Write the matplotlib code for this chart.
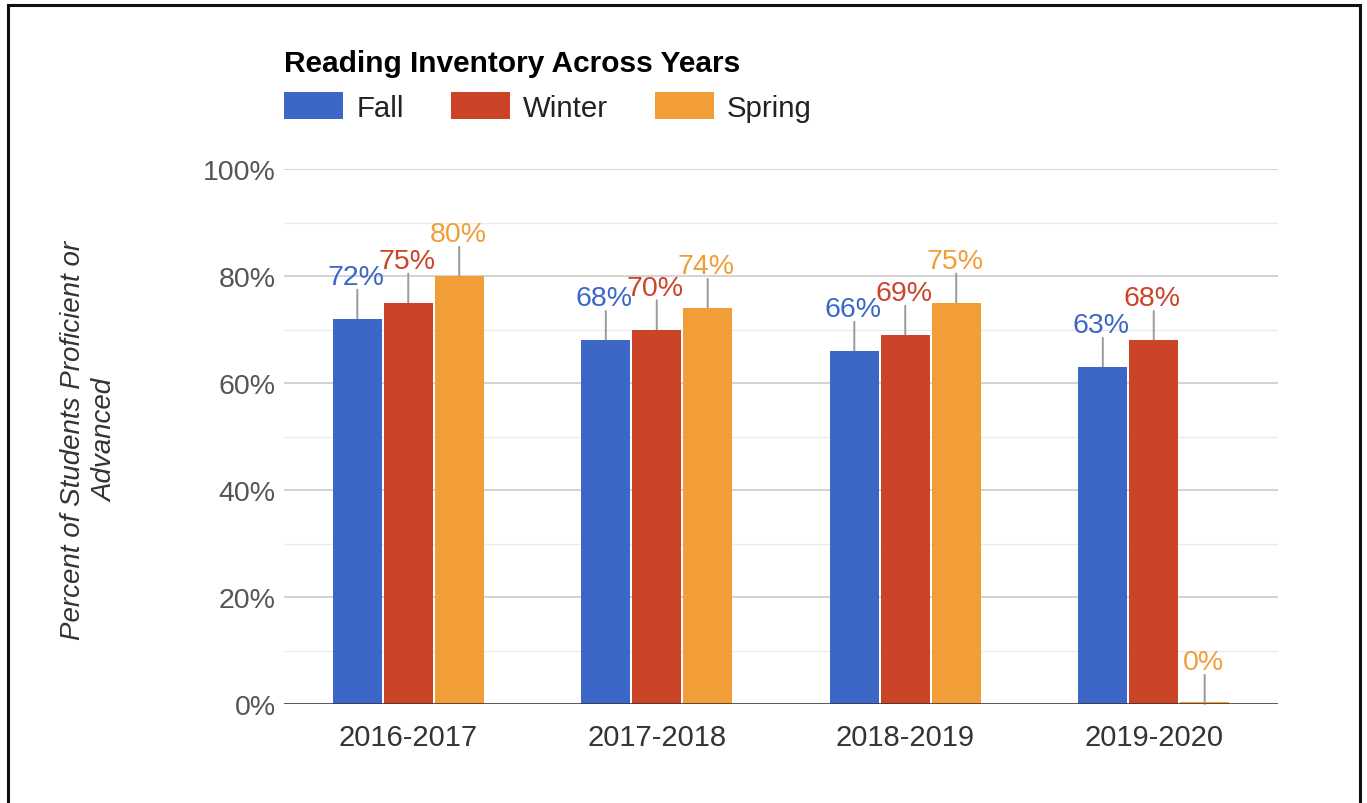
import matplotlib.pyplot as plt
from matplotlib.patches import Rectangle, Patch
from matplotlib.ticker import MultipleLocator, PercentFormatter
import numpy as np

plt.rcParams['font.family'] = ['Liberation Sans', 'DejaVu Sans']

years = ["2016-2017", "2017-2018", "2018-2019", "2019-2020"]
seasons = ["Fall", "Winter", "Spring"]
fall = [72, 68, 66, 63]
winter = [75, 70, 69, 68]
spring = [80, 74, 75, 0]
colors = ["#3c67c6", "#cc4427", "#f29e38"]

W, H = 1367, 804
fig = plt.figure(figsize=(W / 100, H / 100), dpi=100)
ax = fig.add_axes([284 / W, 1 - 705 / H, (1278 - 284) / W, (705 - 170) / H])

x = np.arange(len(years))
width = 0.198
offsets = [-0.205, 0.0, 0.205]

for vals, off, col in zip([fall, winter, spring], offsets, colors):
    for xi, v in zip(x, vals):
        pos = xi + off
        if v == 0:
            ax.bar(pos, 0.4, width, color=col, zorder=4)
        else:
            ax.bar(pos, v, width, color=col, zorder=3)
        # leader line + label
        ax.annotate("", xy=(pos, v), xytext=(0, 21), textcoords="offset points",
                    arrowprops=dict(arrowstyle="-", color="#9a9a9a", lw=1.4,
                                    shrinkA=0, shrinkB=0), zorder=2)
        ax.annotate(f"{v}%", xy=(pos, v), xytext=(-1, 25), textcoords="offset points",
                    ha="center", va="baseline", color=col, fontsize=20.5, zorder=5)

ax.set_xlim(-0.5, 3.5)
ax.set_ylim(0, 100)
ax.yaxis.set_major_locator(MultipleLocator(20))
ax.yaxis.set_minor_locator(MultipleLocator(10))
ax.yaxis.set_major_formatter(PercentFormatter(decimals=0))
ax.grid(axis="y", which="major", color="#cccccc", lw=1.2, zorder=0)
ax.grid(axis="y", which="minor", color="#ebebeb", lw=1.0, zorder=0)
ax.axhline(0, color="#333333", lw=1.8, zorder=6)

for s in ax.spines.values():
    s.set_visible(False)
ax.tick_params(axis="both", which="both", length=0)
ax.tick_params(axis="y", labelsize=20.5, labelcolor="#555555", pad=6)
ax.tick_params(axis="x", labelsize=21, labelcolor="#333333", pad=14)
ax.set_xticks(x)
ax.set_xticklabels(years)

fig.text(89 / W, 1 - 440 / H, "Percent of Students Proficient or\nAdvanced",
         rotation=90, ha="center", va="center", multialignment="center",
         fontsize=20, style="italic", color="#333333", linespacing=1.3)

fig.text(284 / W, 1 - 72 / H, "Reading Inventory Across Years", fontsize=21.5,
         fontweight="bold", color="#000000", ha="left", va="baseline")

handles = [Patch(facecolor=c, edgecolor="none") for c in colors]
fig.legend(handles, seasons, loc="center left", bbox_to_anchor=(284 / W, 1 - 108 / H),
           ncol=3, frameon=False, fontsize=21.2, handlelength=2.0, handleheight=1.0,
           handletextpad=0.45, columnspacing=1.6, borderpad=0, borderaxespad=0,
           labelcolor="#222222")

fig.add_artist(Rectangle((8 / W, -0.02), (1360 - 8) / W, 1.02 - 6 / H,
                         transform=fig.transFigure, fill=False, edgecolor="#111111",
                         lw=2.2, clip_on=False))

fig.savefig("out.png", dpi=100)
